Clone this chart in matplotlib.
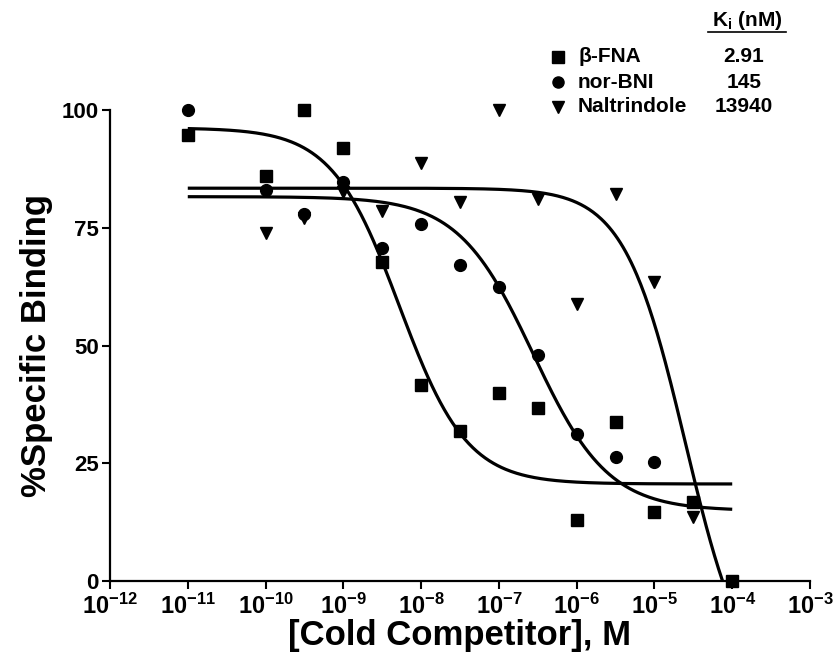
import numpy as np
import matplotlib
matplotlib.use("Agg")
import matplotlib.pyplot as plt
from matplotlib.lines import Line2D

plt.rcParams['font.family'] = ['Liberation Sans', 'DejaVu Sans']
plt.rcParams['font.weight'] = 'bold'
plt.rcParams['mathtext.fontset'] = 'custom'
plt.rcParams['mathtext.rm'] = 'Liberation Sans:bold'
plt.rcParams['mathtext.bf'] = 'Liberation Sans:bold'
plt.rcParams['mathtext.it'] = 'Liberation Sans:bold'

# ---- measured binding data (log10 molar concentration, % specific binding) ----
fna_logc = [-11, -10, -9.5, -9, -8.5, -8, -7.5, -7, -6.5, -6, -5.5, -5, -4.5, -4]
fna_pct = [94.7, 86, 100, 92, 67.7, 41.6, 31.8, 39.9, 36.7, 12.9, 33.8, 14.6, 16.8, 0]

bni_logc = [-11, -10, -9.5, -9, -8.5, -8, -7.5, -7, -6.5, -6, -5.5, -5]
bni_pct = [100, 83, 77.9, 84.7, 70.7, 75.8, 67.1, 62.4, 48, 31.2, 26.3, 25.3]

nti_logc = [-10, -9.5, -9, -8.5, -8, -7.5, -7, -6.5, -6, -5.5, -5, -4.5]
nti_pct = [73.9, 77, 82.6, 78.6, 88.7, 80.5, 100, 81.1, 58.8, 82.2, 63.5, 13.6]

# ---- fitted competition curves: top, bottom, logIC50, Hill slope ----
fna_fit = [96.2, 20.6, -8.28, 1.0]
bni_fit = [81.6, 14.9, -6.56, 0.9]
nti_fit = [83.4, -25.0, -4.6, 1.1]

names = ['\u03b2-FNA', 'nor-BNI', 'Naltrindole']
ki_values = ['2.91', '145', '13940']
markers = ['s', 'o', 'v']

x_ticks = list(range(-12, -2))
y_ticks = [0, 25, 50, 75, 100]


def sigmoid(logx, top, bottom, logic50, hill):
    return bottom + (top - bottom) / (1 + 10 ** ((logx - logic50) * hill))


fig = plt.figure(figsize=(8.35, 6.66), dpi=100)
ax = fig.add_axes([110 / 835, 1 - 581 / 666, 700 / 835, 471 / 666])

ax.set_xscale('log')
ax.set_xlim(1e-12, 1e-3)
ax.set_ylim(0, 100)

grid = np.linspace(-11, -4, 400)
for fit in (fna_fit, bni_fit, nti_fit):
    ax.plot(10 ** grid, sigmoid(grid, *fit), color='black', lw=2.3,
            solid_capstyle='butt', zorder=2)

for logc, pct, m in ((fna_logc, fna_pct, 's'),
                     (bni_logc, bni_pct, 'o'),
                     (nti_logc, nti_pct, 'v')):
    ax.plot(10 ** np.array(logc, dtype=float), pct, linestyle='none',
            marker=m, ms=8.5, color='black', mec='black', clip_on=False, zorder=3)

for side in ('top', 'right'):
    ax.spines[side].set_visible(False)
for side in ('left', 'bottom'):
    ax.spines[side].set_linewidth(1.6)

ax.set_xticks([10.0 ** e for e in x_ticks])
ax.set_xticklabels([r'$\mathbf{10^{%d}}$' % e for e in x_ticks])
ax.xaxis.set_minor_locator(matplotlib.ticker.NullLocator())
ax.set_yticks(y_ticks)
ax.set_yticklabels([str(v) for v in y_ticks])
ax.tick_params(axis='both', direction='out', length=6, width=1.5,
               labelsize=16, pad=2)
ax.tick_params(axis='x', labelsize=17, pad=3)
# lift the y tick labels a touch so "0" clears the first x label
for lbl in ax.get_yticklabels():
    lbl.set_verticalalignment('center_baseline')

ax.set_xlabel('[Cold Competitor], M', fontsize=25, fontweight='bold', labelpad=0)
ax.set_ylabel('%Specific Binding', fontsize=25, fontweight='bold', labelpad=6)

# key with Ki column
def fx(px):
    return px / 835


def fy(py):
    return 1 - py / 666


fig.text(fx(747), fy(20), r'$\mathbf{K_i}$ (nM)', fontsize=15, fontweight='bold',
         ha='center', va='center')
fig.add_artist(Line2D([fx(708), fx(786)], [fy(32), fy(32)], color='black', lw=1.2))
for i, (nm, ki, m) in enumerate(zip(names, ki_values, markers)):
    yy = 57 + 25 * i
    fig.add_artist(Line2D([fx(558)], [fy(yy)], marker=m, ms=8, color='black',
                          linestyle='none'))
    fig.text(fx(578), fy(yy), nm, fontsize=15, fontweight='bold', ha='left', va='center')
    fig.text(fx(744), fy(yy), ki, fontsize=15, fontweight='bold', ha='center', va='center')

fig.savefig('out.png', dpi=100, facecolor='white')
